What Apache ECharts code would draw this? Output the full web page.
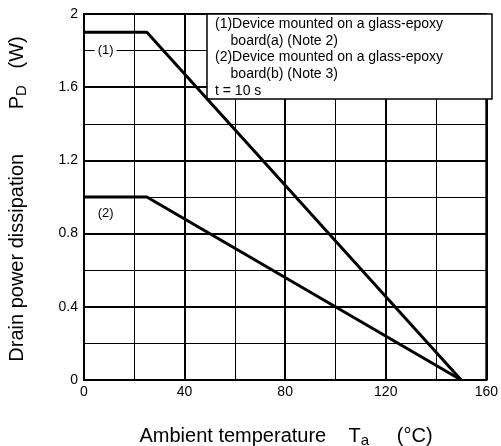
<!DOCTYPE html>
<html>
<head>
<meta charset="utf-8">
<script src="https://cdn.jsdelivr.net/npm/echarts@6/dist/echarts.min.js"></script>
<style>
  html, body { margin: 0; padding: 0; background: #fff; }
  #chart { width: 501px; height: 446px; }
</style>
</head>
<body>
<div id="chart"></div>
<script>
// derating curves
const tempsA = [0, 25, 150]
const powerA = [1.9, 1.9, 0]
const tempsB = [0, 25, 150]
const powerB = [1.0, 1.0, 0]

const curveTags = ['(1)', '(2)']
const tagPos = [[8.6, 1.8], [8.6, 0.91]]

const noteLines = [
  '(1)Device mounted on a glass-epoxy',
  '    board(a) (Note 2)',
  '(2)Device mounted on a glass-epoxy',
  '    board(b) (Note 3)',
  't = 10 s'
]

const font = 'Liberation Sans, Arial, sans-serif'
const chart = echarts.init(document.getElementById('chart'))

function makeSeries (xs, ys, idx) {
  return {
    type: 'line',
    data: xs.map((x, i) => [x, ys[i]]),
    symbol: 'none',
    lineStyle: { color: '#000', width: 3 },
    z: 5,
    markPoint: {
      symbol: 'rect',
      symbolSize: 1,
      itemStyle: { color: 'transparent' },
      label: {
        show: true,
        formatter: curveTags[idx],
        color: '#000',
        fontFamily: font,
        fontSize: 13,
        backgroundColor: '#fff',
        padding: [1, 3]
      },
      data: [{ coord: tagPos[idx] }]
    }
  }
}

const titleRich = {
  a: { fontSize: 20, fontFamily: font, color: '#000' },
  s: { fontSize: 15, fontFamily: font, color: '#000', padding: [9, 0, 0, 0] }
}

const option = {
  animation: false,
  backgroundColor: '#fff',
  grid: {
    left: 84, right: 8, top: 14, bottom: 66,
    show: true, borderColor: '#000', borderWidth: 2
  },
  xAxis: {
    type: 'value',
    min: 0, max: 160, interval: 40,
    axisLine: { lineStyle: { color: '#000', width: 2 } },
    axisTick: { show: false },
    axisLabel: { color: '#000', fontFamily: font, fontSize: 14, margin: 5 },
    splitLine: { show: true, lineStyle: { color: '#000', width: 2 } },
    minorTick: { show: false, splitNumber: 2 },
    minorSplitLine: { show: true, lineStyle: { color: '#000', width: 1 } }
  },
  yAxis: {
    type: 'value',
    min: 0, max: 2, interval: 0.4,
    axisLine: { lineStyle: { color: '#000', width: 2 } },
    axisTick: { show: false },
    axisLabel: { color: '#000', fontFamily: font, fontSize: 14, margin: 6 },
    splitLine: { show: true, lineStyle: { color: '#000', width: 2 } },
    minorTick: { show: false, splitNumber: 2 },
    minorSplitLine: { show: true, lineStyle: { color: '#000', width: 1 } }
  },
  series: [
    makeSeries(tempsA, powerA, 0),
    makeSeries(tempsB, powerB, 1)
  ],
  graphic: [
    {
      type: 'rect',
      z: 3,
      shape: { x: 207, y: 14, width: 285, height: 85 },
      style: { fill: '#fff', stroke: '#000', lineWidth: 1.5 }
    },
    {
      type: 'text',
      z: 4,
      x: 215,
      y: 16,
      style: {
        text: noteLines.join('\n'),
        fill: '#000',
        font: '14px ' + font,
        lineHeight: 16.6
      }
    },
    {
      type: 'text',
      z: 4,
      x: 286,
      y: 436,
      style: {
        text: '{a|Ambient temperature}{a|    T}{s|a}{a|     (°C)}',
        align: 'center',
        verticalAlign: 'middle',
        rich: titleRich
      }
    },
    {
      type: 'text',
      z: 4,
      x: 17,
      y: 199,
      rotation: Math.PI / 2,
      style: {
        text: '{a|Drain power dissipation}{a|        P}{s|D}{a|   (W)}',
        align: 'center',
        verticalAlign: 'middle',
        rich: titleRich
      }
    }
  ]
}

chart.setOption(option)
</script>
</body>
</html>
